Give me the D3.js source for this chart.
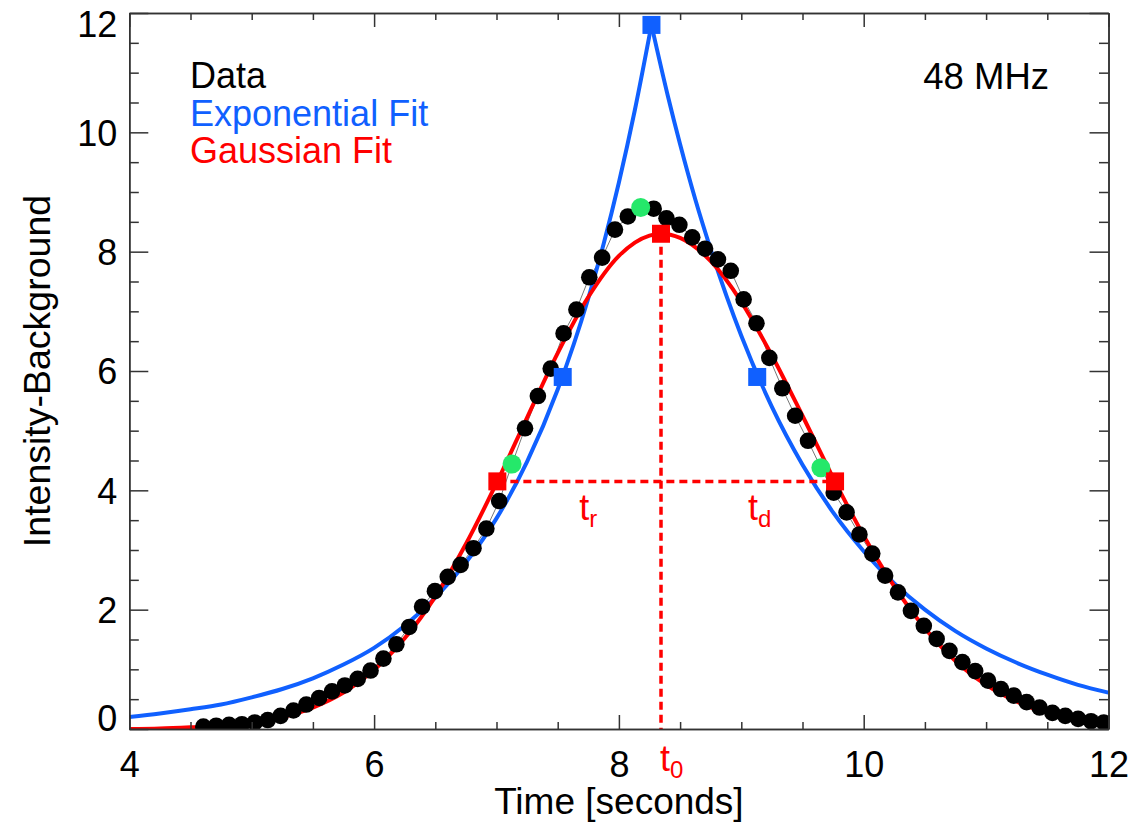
<!DOCTYPE html>
<html>
<head>
<meta charset="utf-8">
<script src="https://cdn.jsdelivr.net/npm/d3@7"></script>
<style>
  body { margin: 0; background: #fff; }
  svg text { font-family: "Liberation Sans", Arial, Helvetica, sans-serif; }
</style>
</head>
<body>
<script>

// measured intensity (background removed) at 48 MHz
var timeSec = [4.605, 4.710, 4.815, 4.920, 5.025, 5.131, 5.236, 5.341, 5.446, 5.551,
               5.656, 5.761, 5.866, 5.971, 6.076, 6.182, 6.287, 6.392, 6.497, 6.602,
               6.707, 6.812, 6.917, 7.022, 7.127, 7.233, 7.338, 7.443, 7.548, 7.653,
               7.758, 7.863, 7.968, 8.073, 8.178, 8.284, 8.389, 8.494, 8.599, 8.704,
               8.809, 8.914, 9.019, 9.124, 9.229, 9.335, 9.440, 9.545, 9.650, 9.755,
               9.860, 9.965, 10.070, 10.175, 10.280, 10.386, 10.491, 10.596, 10.701, 10.806,
               10.911, 11.016, 11.121, 11.226, 11.331, 11.437, 11.542, 11.647, 11.752, 11.857,
               11.962];
var intensity = [0.04, 0.055, 0.07, 0.08, 0.11, 0.15, 0.22, 0.31, 0.41, 0.52,
                 0.63, 0.73, 0.84, 0.98, 1.18, 1.42, 1.71, 2.05, 2.31, 2.55,
                 2.75, 3.03, 3.36, 3.82, 4.44, 5.04, 5.58, 6.04, 6.63, 7.03,
                 7.57, 7.90, 8.37, 8.59, 8.74, 8.72, 8.56, 8.45, 8.24, 8.05,
                 7.87, 7.68, 7.20, 6.80, 6.22, 5.71, 5.25, 4.83, 4.38, 3.96,
                 3.63, 3.26, 2.94, 2.57, 2.29, 1.98, 1.73, 1.51, 1.31, 1.12,
                 0.97, 0.81, 0.67, 0.56, 0.45, 0.36, 0.27, 0.22, 0.17, 0.13,
                 0.11];

// exponential fit, rise and decay sides
var expRiseT = [4.0, 4.25, 4.5, 4.75, 5.0, 5.25, 5.5, 5.75, 6.0, 6.25, 6.5, 6.75, 7.0, 7.25, 7.5, 7.75, 7.875, 8.0, 8.13, 8.266];
var expRiseV = [0.20, 0.26, 0.33, 0.41, 0.53, 0.67, 0.85, 1.08, 1.36, 1.73, 2.20, 2.79, 3.53, 4.48, 5.69, 7.22, 8.13, 9.16, 10.37, 11.8];
var expDecayT = [8.266, 8.4, 8.5, 8.625, 8.75, 9.0, 9.25, 9.5, 9.75, 10.0, 10.25, 10.5, 10.75, 11.0, 11.25, 11.5, 11.75, 12.0];
var expDecayV = [11.8, 10.61, 9.80, 8.87, 8.04, 6.59, 5.40, 4.43, 3.63, 2.98, 2.44, 2.00, 1.64, 1.35, 1.11, 0.91, 0.74, 0.61];

// gaussian fit
var gaussT = [4.0, 4.25, 4.5, 4.75, 5.0, 5.25, 5.5, 5.75, 6.0, 6.25, 6.5, 6.75, 7.0, 7.25, 7.5, 7.75, 8.0, 8.25, 8.344,
              8.5, 8.75, 9.0, 9.25, 9.5, 9.75, 10.0, 10.25, 10.5, 10.75, 11.0, 11.25, 11.5, 11.75, 12.0];
var gaussV = [0.0, 0.01, 0.03, 0.055, 0.11, 0.20, 0.36, 0.61, 0.99, 1.52, 2.22, 3.10, 4.12, 5.22, 6.30, 7.24, 7.93, 8.27, 8.30,
              8.23, 7.84, 7.16, 6.26, 5.25, 4.21, 3.24, 2.39, 1.69, 1.14, 0.74, 0.46, 0.27, 0.16, 0.09];

// markers: peak and half-peak points
var expMarkT = [7.541, 8.266, 9.13];
var expMarkV = [5.9, 11.8, 5.9];
var gaussMarkT = [7.007, 8.344, 9.766];
var gaussMarkV = [4.15, 8.30, 4.15];
var halfT = [7.127, 8.178, 9.650];
var halfV = [4.44, 8.74, 4.38];

var xMajor = [4, 6, 8, 10, 12];
var xMinor = [4.5, 5, 5.5, 6.5, 7, 7.5, 8.5, 9, 9.5, 10.5, 11, 11.5];
var yMajor = [0, 2, 4, 6, 8, 10, 12];
var yMinor = [0.5, 1, 1.5, 2.5, 3, 3.5, 4.5, 5, 5.5, 6.5, 7, 7.5, 8.5, 9, 9.5, 10.5, 11, 11.5];

var w = 1135, h = 822;
var blue = "#1060ff", red = "#ff0000", green = "#25e86a", axisColor = "#333";
var font = "'Liberation Sans', Arial, Helvetica, sans-serif";

var x = d3.scaleLinear().domain([4, 12]).range([129.3, 1108.5]);
var y = d3.scaleLinear().domain([0, 12]).range([729, 13]);

var svg = d3.select("body").append("svg")
    .attr("width", w)
    .attr("height", h);

svg.append("clipPath").attr("id", "plotclip")
  .append("rect")
    .attr("x", x(4)).attr("y", y(12))
    .attr("width", x(12) - x(4)).attr("height", y(0) - y(12));

var plot = svg.append("g").attr("clip-path", "url(#plotclip)");

var line = d3.line()
    .x(function(d) { return x(d[0]); })
    .y(function(d) { return y(d[1]); })
    .curve(d3.curveMonotoneX);

var data = d3.zip(timeSec, intensity);

// thin line joining the data points
plot.append("path")
    .datum(data)
    .attr("fill", "none")
    .attr("stroke", "#777")
    .attr("stroke-width", 1)
    .attr("d", d3.line().x(function(d) { return x(d[0]); }).y(function(d) { return y(d[1]); }));

// fits
[d3.zip(expRiseT, expRiseV), d3.zip(expDecayT, expDecayV)].forEach(function(seg) {
  plot.append("path")
      .datum(seg)
      .attr("fill", "none")
      .attr("stroke", blue)
      .attr("stroke-width", 4)
      .attr("d", line);
});

plot.append("path")
    .datum(d3.zip(gaussT, gaussV))
    .attr("fill", "none")
    .attr("stroke", red)
    .attr("stroke-width", 4)
    .attr("d", line);

// dashed guides: t0 and the half-max width
plot.append("line")
    .attr("x1", x(gaussMarkT[1])).attr("x2", x(gaussMarkT[1]))
    .attr("y1", y(gaussMarkV[1])).attr("y2", y(0))
    .attr("stroke", red).attr("stroke-width", 3.5)
    .attr("stroke-dasharray", "8,5");

plot.append("line")
    .attr("x1", x(gaussMarkT[0])).attr("x2", x(gaussMarkT[2]))
    .attr("y1", y(gaussMarkV[0])).attr("y2", y(gaussMarkV[2]))
    .attr("stroke", red).attr("stroke-width", 3.5)
    .attr("stroke-dasharray", "8,5");

// data points
plot.selectAll(".dot")
    .data(data)
    .enter()
    .append("circle")
    .attr("class", "dot")
    .attr("cx", function(d) { return x(d[0]); })
    .attr("cy", function(d) { return y(d[1]); })
    .attr("r", 8.3)
    .attr("fill", "#000");

plot.selectAll(".half")
    .data(d3.zip(halfT, halfV))
    .enter()
    .append("circle")
    .attr("class", "half")
    .attr("cx", function(d) { return x(d[0]); })
    .attr("cy", function(d) { return y(d[1]); })
    .attr("r", 9.5)
    .attr("fill", green);

// square markers
var sq = 18;
plot.selectAll(".expmark")
    .data(d3.zip(expMarkT, expMarkV))
    .enter()
    .append("rect")
    .attr("class", "expmark")
    .attr("x", function(d) { return x(d[0]) - sq / 2; })
    .attr("y", function(d) { return y(d[1]) - sq / 2; })
    .attr("width", sq).attr("height", sq)
    .attr("fill", blue);

plot.selectAll(".gaussmark")
    .data(d3.zip(gaussMarkT, gaussMarkV))
    .enter()
    .append("rect")
    .attr("class", "gaussmark")
    .attr("x", function(d) { return x(d[0]) - sq / 2; })
    .attr("y", function(d) { return y(d[1]) - sq / 2; })
    .attr("width", sq).attr("height", sq)
    .attr("fill", red);

// axes, ticks pointing inward on all four sides
function styleAxis(g) {
  g.attr("font-size", 36).attr("font-family", font);
  g.select(".domain").attr("stroke", axisColor).attr("stroke-width", 1.5);
  g.selectAll(".tick line").attr("stroke", axisColor).attr("stroke-width", 1.5);
  g.selectAll(".tick text").attr("fill", "#000");
}

svg.append("g")
    .attr("transform", "translate(0," + y(0) + ")")
    .call(d3.axisBottom(x).tickValues(xMinor).tickSize(-7).tickSizeOuter(0).tickFormat(""))
    .call(styleAxis);
svg.append("g")
    .attr("transform", "translate(0," + y(0) + ")")
    .call(d3.axisBottom(x).tickValues(xMajor).tickSize(-14).tickSizeOuter(0).tickPadding(22).tickFormat(d3.format("d")))
    .call(styleAxis);

svg.append("g")
    .attr("transform", "translate(0," + y(12) + ")")
    .call(d3.axisTop(x).tickValues(xMinor).tickSize(-7).tickSizeOuter(0).tickFormat(""))
    .call(styleAxis);
svg.append("g")
    .attr("transform", "translate(0," + y(12) + ")")
    .call(d3.axisTop(x).tickValues(xMajor).tickSize(-14).tickSizeOuter(0).tickFormat(""))
    .call(styleAxis);

svg.append("g")
    .attr("transform", "translate(" + x(4) + ",0)")
    .call(d3.axisLeft(y).tickValues(yMinor).tickSize(-9.5).tickSizeOuter(0).tickFormat(""))
    .call(styleAxis);
var yAxisG = svg.append("g")
    .attr("transform", "translate(" + x(4) + ",0)")
    .call(d3.axisLeft(y).tickValues(yMajor).tickSize(-19).tickSizeOuter(0).tickPadding(12).tickFormat(d3.format("d")))
    .call(styleAxis);
yAxisG.selectAll(".tick text").attr("dy", function(d) {
  if (d === 0) return "0.03em";
  if (d === 12) return "0.64em";
  return "0.36em";
});

svg.append("g")
    .attr("transform", "translate(" + x(12) + ",0)")
    .call(d3.axisRight(y).tickValues(yMinor).tickSize(-9.5).tickSizeOuter(0).tickFormat(""))
    .call(styleAxis);
svg.append("g")
    .attr("transform", "translate(" + x(12) + ",0)")
    .call(d3.axisRight(y).tickValues(yMajor).tickSize(-19).tickSizeOuter(0).tickFormat(""))
    .call(styleAxis);

// axis titles
svg.append("text")
    .attr("x", (x(4) + x(12)) / 2)
    .attr("y", 814)
    .attr("text-anchor", "middle")
    .attr("font-size", 37)
    .text("Time [seconds]");

svg.append("text")
    .attr("transform", "translate(50," + (y(0) + y(12)) / 2 + ") rotate(-90)")
    .attr("text-anchor", "middle")
    .attr("font-size", 37.5)
    .text("Intensity-Background");

// legend
var legend = [["Data", "#000"], ["Exponential Fit", blue], ["Gaussian Fit", red]];
svg.selectAll(".legend")
    .data(legend)
    .enter()
    .append("text")
    .attr("class", "legend")
    .attr("x", 190)
    .attr("y", function(d, i) { return 88 + i * 37.5; })
    .attr("font-size", 36)
    .attr("fill", function(d) { return d[1]; })
    .text(function(d) { return d[0]; });

svg.append("text")
    .attr("x", 1049)
    .attr("y", 89)
    .attr("text-anchor", "end")
    .attr("font-size", 36.5)
    .text("48 MHz");

// t_r, t_d, t_0 labels
function subLabel(px, py, sub) {
  var t = svg.append("text")
      .attr("x", px).attr("y", py)
      .attr("font-size", 36)
      .attr("fill", red);
  t.append("tspan").text("t");
  t.append("tspan").attr("font-size", 24).attr("dy", 7).text(sub);
}
subLabel(x((gaussMarkT[0] + gaussMarkT[1]) / 2), y(gaussMarkV[0]) + 39, "r");
subLabel(x((gaussMarkT[1] + gaussMarkT[2]) / 2), y(gaussMarkV[2]) + 39, "d");
subLabel(x(gaussMarkT[1]) - 1, 771, "0");

</script>
</body>
</html>
